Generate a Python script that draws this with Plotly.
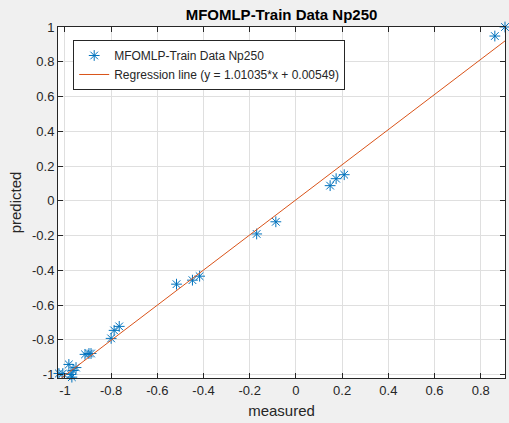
import plotly.graph_objects as go

measured = [-1.026, -1.009, -0.983, -0.974, -0.970, -0.965, -0.952, -0.913, -0.896, -0.887,
            -0.800, -0.787, -0.765, -0.517, -0.448, -0.417, -0.170, -0.087,
            0.148, 0.174, 0.209, 0.861, 0.905]
predicted = [-0.994, -0.994, -0.942, -1.000, -1.015, -0.977, -0.960, -0.884, -0.879, -0.879,
             -0.792, -0.746, -0.723, -0.480, -0.457, -0.434, -0.191, -0.121,
             0.087, 0.127, 0.150, 0.948, 1.000]
slope = 1.01035
intercept = 0.00549
x_range = [-1.03, 0.905]
y_range = [-1.02, 1.0]
xticks = [-1, -0.8, -0.6, -0.4, -0.2, 0, 0.2, 0.4, 0.6, 0.8]
xticklabels = ["-1", "-0.8", "-0.6", "-0.4", "-0.2", "0", "0.2", "0.4", "0.6", "0.8"]
yticks = [-1, -0.8, -0.6, -0.4, -0.2, 0, 0.2, 0.4, 0.6, 0.8, 1]
yticklabels = ["-1", "-0.8", "-0.6", "-0.4", "-0.2", "0", "0.2", "0.4", "0.6", "0.8", "1"]

FONT = "Liberation Sans, Arial, Helvetica, sans-serif"
AX = "#262626"

fig = go.Figure()
fig.add_trace(go.Scatter(
    x=measured, y=predicted, mode="markers", name="MFOMLP-Train Data Np250",
    marker=dict(symbol="asterisk-open", size=9, color="#0072BD",
                line=dict(color="#0072BD", width=1)),
    cliponaxis=False,
))
line_x = x_range
line_y = [slope * v + intercept for v in line_x]
fig.add_trace(go.Scatter(
    x=line_x, y=line_y, mode="lines",
    name="Regression line (y = 1.01035*x + 0.00549)",
    line=dict(color="#D95319", width=1),
))

axis_common = dict(
    showgrid=True, gridcolor="#DFDFDF", gridwidth=1, zeroline=False,
    showline=True, linecolor=AX, linewidth=1, mirror="allticks",
    ticks="inside", ticklen=5, tickcolor=AX,
    tickfont=dict(family=FONT, size=13, color=AX),
)
fig.update_xaxes(range=x_range, tickvals=xticks, ticktext=xticklabels,
                 title=dict(text="measured", font=dict(family=FONT, size=15, color=AX), standoff=8),
                 **axis_common)
fig.update_yaxes(range=y_range, tickvals=yticks, ticktext=yticklabels,
                 title=dict(text="predicted", font=dict(family=FONT, size=15, color=AX), standoff=6),
                 **axis_common)

fig.update_layout(
    width=509, height=423,
    margin=dict(l=58, r=4, t=27, b=45),
    paper_bgcolor="#F0F0F0", plot_bgcolor="white",
    title=dict(text="<b>MFOMLP-Train Data Np250</b>", x=(58 + 505) / 2 / 509, xanchor="center",
               y=1 - 15 / 423, yanchor="middle",
               font=dict(family=FONT, size=15, color="black")),
    legend=dict(x=0.034, y=0.963, xanchor="left", yanchor="top",
                bgcolor="white", bordercolor=AX, borderwidth=1,
                font=dict(family=FONT, size=12, color=AX),
                tracegroupgap=0, itemwidth=30),
    showlegend=True,
)

fig.write_html("out.html")
